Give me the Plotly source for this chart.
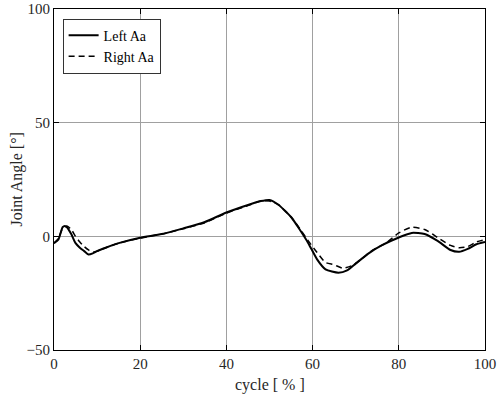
import plotly.graph_objects as go

cycle_left = [0, 1, 2, 2.5, 3, 4, 5, 6, 7, 8, 9, 10, 12, 15, 20, 25, 30, 35, 40, 45, 48, 50,
              52, 55, 57, 59, 61, 63, 66, 68, 70, 73, 76, 80, 83, 86, 89, 92, 94, 96, 98, 100]
left_aa = [-3, -1.5, 4, 4.6, 4, 1, -3, -5, -6.5, -8, -7.5, -6.5, -5, -3, -0.6, 1, 3.5, 6.3,
           10.5, 13.8, 15.5, 16, 14, 8.5, 3, -3, -10, -14.5, -16, -15, -12, -7.5, -4, -0.5,
           1.5, 1, -2, -6, -6.8, -5.5, -3.5, -2.5]

cycle_right = [0, 1, 2, 3, 4, 5, 6, 7, 8, 9, 10, 12, 15, 20, 25, 30, 35, 40, 45, 48, 50, 52,
               55, 57, 59, 61, 63, 65, 67, 69, 71, 74, 77, 80, 83, 86, 89, 92, 94, 96, 98, 100]
right_aa = [-3, -1, 3.5, 4.5, 3, 0, -2.5, -4.5, -6, -7, -6.5, -5, -3, -0.8, 1, 3.3, 6, 10.2,
            13.5, 15.5, 15.5, 14, 8.5, 3.5, -2, -7, -11.5, -12.5, -14, -13, -10.5, -6, -3,
            1.5, 4, 3, -0.5, -4, -5, -4.5, -2.5, -1.5]

x_ticks = [0, 20, 40, 60, 80, 100]
y_ticks = [-50, 0, 50, 100]

font_family = "Liberation Serif, Times New Roman, serif"

fig = go.Figure()
fig.add_trace(go.Scatter(x=cycle_left, y=left_aa, mode="lines", name="Left Aa",
                         line=dict(color="black", width=2, shape="spline", smoothing=0.6)))
fig.add_trace(go.Scatter(x=cycle_right, y=right_aa, mode="lines", name="Right Aa",
                         line=dict(color="black", width=1.5, dash="6px,4px", shape="spline", smoothing=0.6)))

axis_common = dict(showgrid=True, gridcolor="#a0a0a0", gridwidth=1, showline=True,
                   linecolor="black", linewidth=1, mirror="ticks", ticks="inside",
                   ticklen=5, tickcolor="black", zeroline=False, automargin=False,
                   tickfont=dict(family=font_family, size=15, color="#262626"))

fig.update_layout(
    width=497, height=399,
    margin=dict(l=54, r=12, t=9, b=49),
    plot_bgcolor="white", paper_bgcolor="white",
    font=dict(family=font_family, size=15, color="#262626"),
    xaxis=dict(range=[0, 100], tickvals=x_ticks, **axis_common),
    yaxis=dict(range=[-50, 100], tickvals=y_ticks, **axis_common),
    legend=dict(x=0.02, y=0.972, xanchor="left", yanchor="top", bgcolor="white",
                bordercolor="#333", borderwidth=1,
                font=dict(family=font_family, size=14, color="black"),
                tracegroupgap=0, itemwidth=30),
    showlegend=True,
    annotations=[
        dict(text="cycle [ % ]", xref="paper", yref="paper", x=0.5, y=0, yshift=-35,
             xanchor="center", yanchor="middle", showarrow=False,
             font=dict(family=font_family, size=16, color="#262626")),
        dict(text="Joint Angle [°]", xref="paper", yref="paper", x=0, y=0.5, xshift=-38,
             xanchor="center", yanchor="middle", textangle=-90, showarrow=False,
             font=dict(family=font_family, size=16, color="#262626")),
    ],
)

fig.write_html("out.html", config={"displayModeBar": False},
               post_script="document.body.style.margin='0';document.body.style.padding='0';")
